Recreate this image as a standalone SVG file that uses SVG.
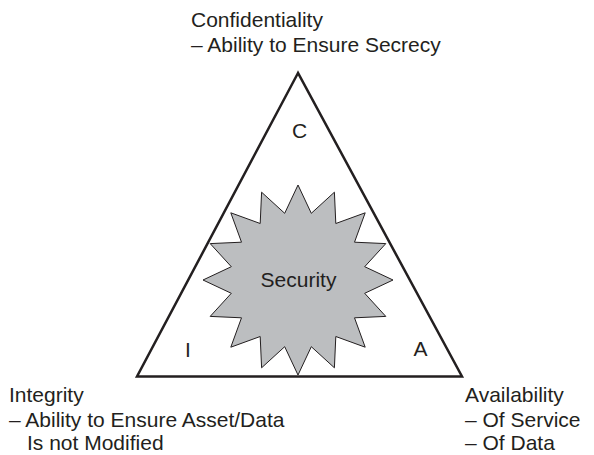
<svg xmlns="http://www.w3.org/2000/svg" width="594" height="455" viewBox="0 0 594 455">
<style>
text{font-family:"Liberation Sans",Arial,sans-serif;font-size:21px;fill:#231f20}
.mid{text-anchor:middle}
.tri{fill:none;stroke:#231f20;stroke-width:2.5;stroke-linejoin:miter}
.star{fill:#bcbec0;stroke:#231f20;stroke-width:1}
</style>
<rect width="594" height="455" fill="#ffffff"/>
<g id="triangle">
<polygon class="tri" points="298,73 137,376.5 462,376.5"/>
</g>
<g id="security">
<polygon class="star" points="298,185 311.3,213.3 334.4,192.2 335.8,223.5 365.2,212.8 354.5,242.2 385.8,243.6 364.7,266.7 393,280 364.7,293.3 385.8,316.4 354.5,317.8 365.2,347.2 335.8,336.5 334.4,367.8 311.3,346.7 298,375 284.7,346.7 261.6,367.8 260.2,336.5 230.8,347.2 241.5,317.8 210.2,316.4 231.3,293.3 203,280 231.3,266.7 210.2,243.6 241.5,242.2 230.8,212.8 260.2,223.5 261.6,192.2 284.7,213.3"/>
<text class="mid" x="298.5" y="287">Security</text>
</g>
<g id="C">
<text class="mid" x="299.5" y="138">C</text>
</g>
<g id="I">
<text class="mid" x="188" y="357">I</text>
</g>
<g id="A">
<text class="mid" x="420.5" y="356">A</text>
</g>
<g id="confidentiality">
<text x="191" y="27">Confidentiality</text>
<text x="191" y="52">– Ability to Ensure Secrecy</text>
</g>
<g id="integrity">
<text x="9" y="402">Integrity</text>
<text x="9" y="427">– Ability to Ensure Asset/Data</text>
<text x="27" y="450">Is not Modified</text>
</g>
<g id="availability">
<text x="465" y="402">Availability</text>
<text x="465" y="427">– Of Service</text>
<text x="465" y="450">– Of Data</text>
</g>
<g id="connectors"></g>
</svg>
